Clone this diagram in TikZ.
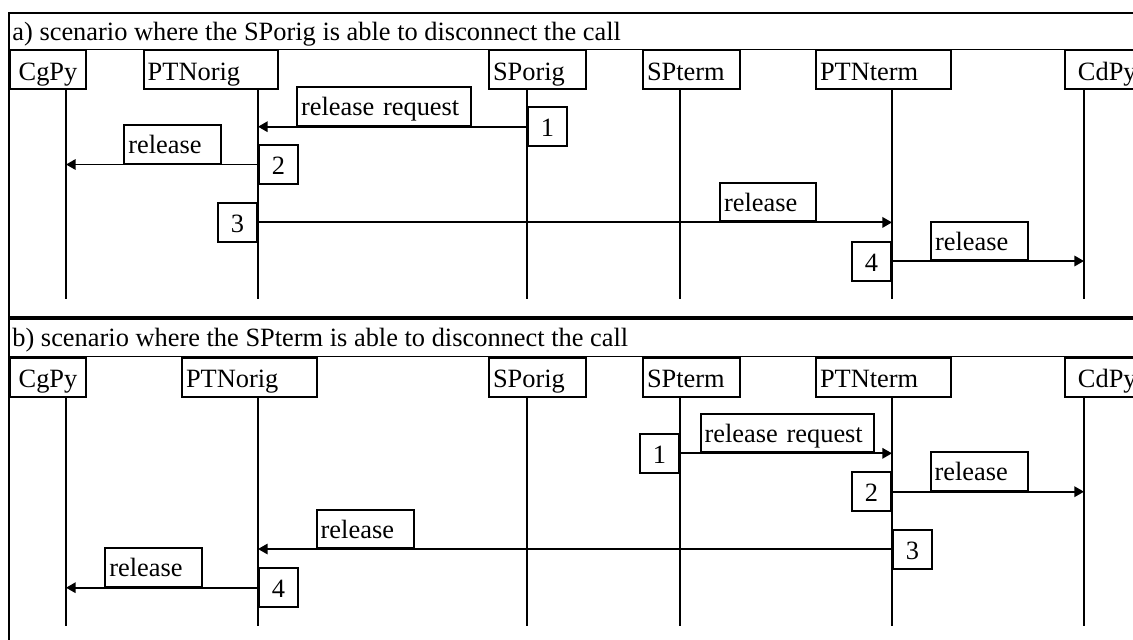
\documentclass[tikz,border=0pt]{standalone}
\usepackage{fontspec}
\setmainfont{Liberation Serif}
\usetikzlibrary{arrows.meta}

\begin{document}
\begin{tikzpicture}[x=0.5pt,y=-0.5pt,
  every node/.style={font=\fontsize{13.2pt}{15pt}\selectfont},
  frame/.style={line width=0.7pt},
  head/.style={draw,line width=1pt,anchor=north west,minimum height=19.5pt,inner xsep=2pt,inner ysep=0pt,text height=13pt,text depth=2.3pt,text width=#1,align=left},
  headc/.style={head=#1,align=center},
  life/.style={line width=1.1pt},
  lbl/.style={draw,line width=1pt,anchor=south west,minimum height=19.2pt,inner xsep=2pt,inner ysep=0pt,text height=12pt,text depth=2.8pt,text width=#1,align=left},
  num/.style={draw,line width=1pt,minimum size=19.5pt,inner sep=0pt,text height=12pt,text depth=2pt},
  msg/.style={line width=0.95pt,-{Triangle[length=4.8pt,width=5.2pt]}}]
  \useasboundingbox (0,0) rectangle (1133,639);
  \clip (0,0) rectangle (1133,639);

  % a) SPorig releases
  \draw[frame] (9,13) rectangle (1150,317);
  \draw[frame] (9,49.3) -- (1150,49.3);
  \node[anchor=base west,inner sep=0pt] (titleA) at (12,40) {a) scenario where the SPorig is able to disconnect the call};
  \node[headc=34.3pt] (aCgPy) at (8.7,49.3) {CgPy};
  \node[head=63pt] (aPTNorig) at (142.7,49.3) {PTNorig};
  \node[head=44.5pt] (aSPorig) at (488,49.3) {SPorig};
  \node[head=44.3pt] (aSPterm) at (642,49.3) {SPterm};
  \node[head=63.5pt] (aPTNterm) at (815,49.3) {PTNterm};
  \node[headc=38pt] (aCdPy) at (1064.3,49.3) {CdPy};
  \coordinate (aCgPyEnd) at (66,299);
  \coordinate (aPTNorigEnd) at (258,299);
  \coordinate (aSPorigEnd) at (527,299);
  \coordinate (aSPtermEnd) at (680,299);
  \coordinate (aPTNtermEnd) at (892,299);
  \coordinate (aCdPyEnd) at (1084,299);
  \foreach \n in {CgPy,PTNorig,SPorig,SPterm,PTNterm,CdPy}
    \draw[life] (a\n End |- a\n.south) -- (a\n End);

  \node[num,anchor=west] (a1) at (527,126.7) {1};
  \node[lbl=83pt] (aL1) at (296,126.7) {release request};
  \draw[msg] (a1.west) -- (a1.west -| aPTNorigEnd);
  \node[num,anchor=west] (a2) at (258,164.5) {2};
  \node[lbl=44.5pt] (aL2) at (123.3,164.5) {release};
  \draw[msg] (a2.west) -- (a2.west -| aCgPyEnd);
  \node[num,anchor=east] (a3) at (258,222.4) {3};
  \node[lbl=44pt] (aL3) at (719,222.4) {release};
  \draw[msg] (a3.east) -- (a3.east -| aPTNtermEnd);
  \node[num,anchor=east] (a4) at (892,261) {4};
  \node[lbl=44.5pt] (aL4) at (930,261) {release};
  \draw[msg] (a4.east) -- (a4.east -| aCdPyEnd);

  % b) SPterm releases
  \draw[frame] (9,319) rectangle (1150,660);
  \draw[frame] (9,356.7) -- (1150,356.7);
  \node[anchor=base west,inner sep=0pt] (titleB) at (12,346.7) {b) scenario where the SPterm is able to disconnect the call};
  \node[headc=34.3pt] (bCgPy) at (8.7,356.7) {CgPy};
  \node[head=63.5pt] (bPTNorig) at (181,356.7) {PTNorig};
  \node[head=44.5pt] (bSPorig) at (488,356.7) {SPorig};
  \node[head=44.3pt] (bSPterm) at (642,356.7) {SPterm};
  \node[head=63.5pt] (bPTNterm) at (815,356.7) {PTNterm};
  \node[headc=38pt] (bCdPy) at (1064.3,356.7) {CdPy};
  \coordinate (bCgPyEnd) at (66,626);
  \coordinate (bPTNorigEnd) at (258,626);
  \coordinate (bSPorigEnd) at (527,626);
  \coordinate (bSPtermEnd) at (680,626);
  \coordinate (bPTNtermEnd) at (892,626);
  \coordinate (bCdPyEnd) at (1084,626);
  \foreach \n in {CgPy,PTNorig,SPorig,SPterm,PTNterm,CdPy}
    \draw[life] (b\n End |- b\n.south) -- (b\n End);

  \node[num,anchor=east] (b1) at (680,453.3) {1};
  \node[lbl=82.5pt] (bL1) at (699.5,453.3) {release request};
  \draw[msg] (b1.east) -- (b1.east -| bPTNtermEnd);
  \node[num,anchor=east] (b2) at (892,491.7) {2};
  \node[lbl=44.5pt] (bL2) at (929.5,491.7) {release};
  \draw[msg] (b2.east) -- (b2.east -| bCdPyEnd);
  \node[num,anchor=west] (b3) at (892,549) {3};
  \node[lbl=44.5pt] (bL3) at (315.7,549) {release};
  \draw[msg] (b3.west) -- (b3.west -| bPTNorigEnd);
  \node[num,anchor=west] (b4) at (258,587.7) {4};
  \node[lbl=44.5pt] (bL4) at (104.3,587.7) {release};
  \draw[msg] (b4.west) -- (b4.west -| bCgPyEnd);
\end{tikzpicture}
\end{document}
